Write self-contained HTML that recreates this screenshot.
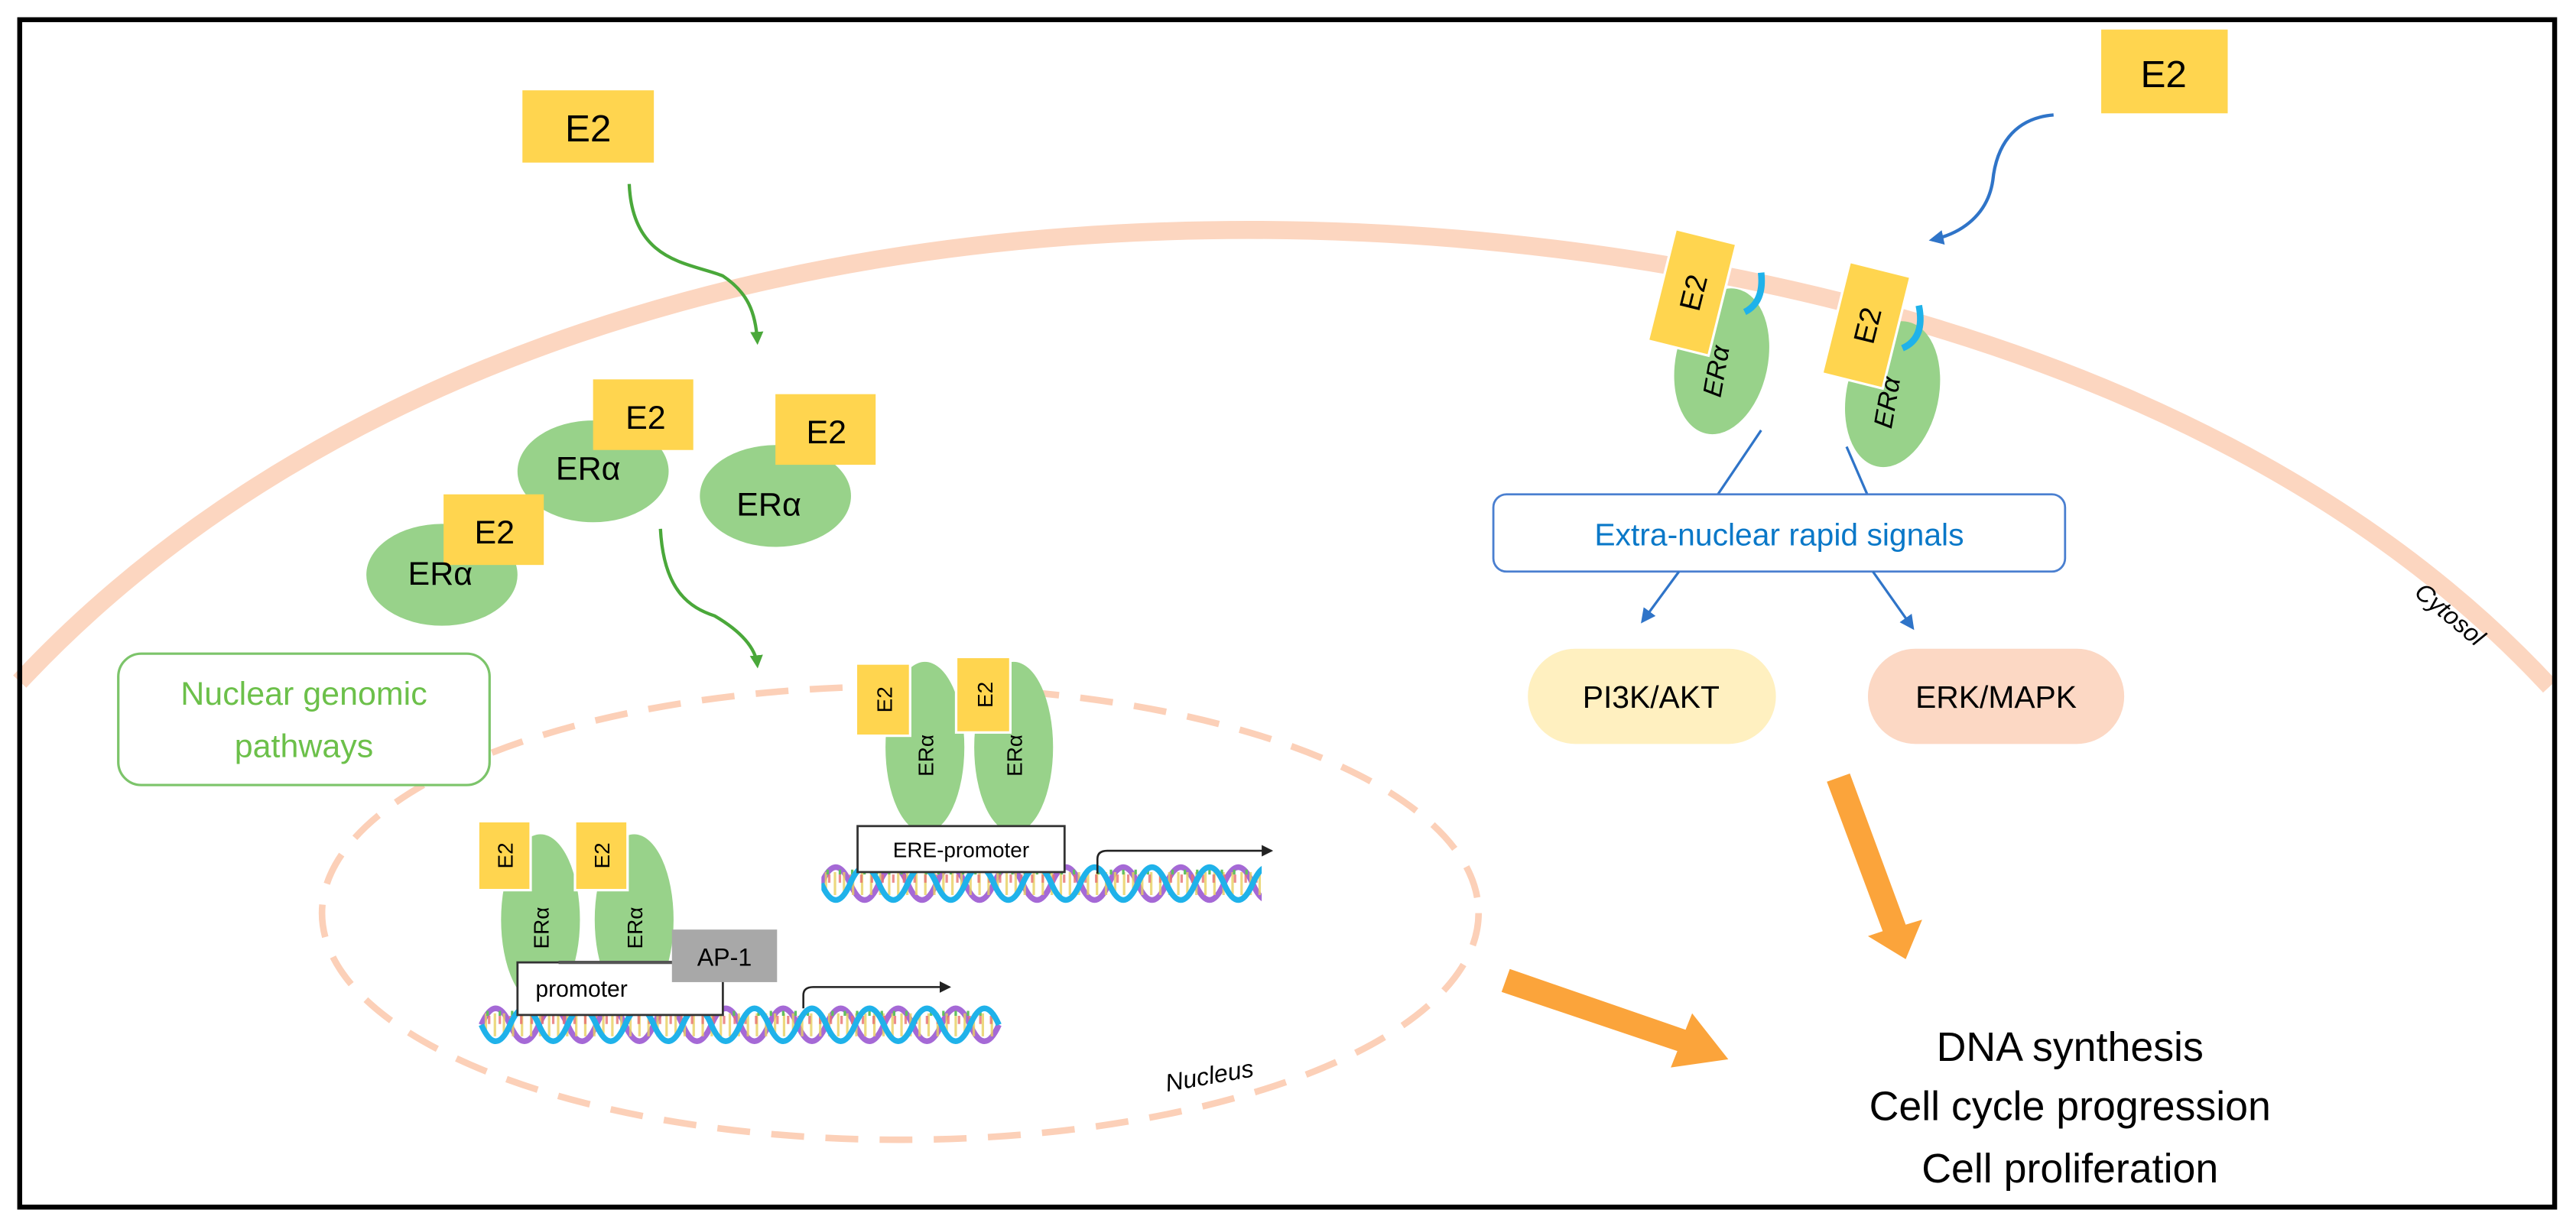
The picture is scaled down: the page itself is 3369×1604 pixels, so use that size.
<!DOCTYPE html>
<html><head><meta charset="utf-8"><style>
html,body{margin:0;padding:0;background:#fff}
svg{display:block}
text{font-family:"Liberation Sans",sans-serif}
</style></head><body>
<svg width="3369" height="1604" viewBox="0 0 1568 746.5" preserveAspectRatio="none" xmlns="http://www.w3.org/2000/svg">
<defs>
<marker id="ga" markerWidth="8" markerHeight="8" refX="6" refY="4" orient="auto" markerUnits="userSpaceOnUse"><path d="M0,0 L8,4 L0,8 Z" fill="#4aa83a"/></marker>
<marker id="ba" markerWidth="9" markerHeight="9" refX="7" refY="4.5" orient="auto" markerUnits="userSpaceOnUse"><path d="M0,0 L9,4.5 L0,9 Z" fill="#2f74c8"/></marker>
<marker id="ka" markerWidth="7" markerHeight="7" refX="6" refY="3.5" orient="auto" markerUnits="userSpaceOnUse"><path d="M0,0 L7,3.5 L0,7 Z" fill="#222"/></marker>
<clipPath id="c1"><rect x="0" y="-20" width="268" height="40"/></clipPath>
<g id="dna">
<path d="M0,0 q8.75,-20 17.5,0 t17.5,0 t17.5,0 t17.5,0 t17.5,0 t17.5,0 t17.5,0 t17.5,0 t17.5,0 t17.5,0 t17.5,0 t17.5,0 t17.5,0 t17.5,0 t17.5,0 t17.5,0 t17.5,0 t17.5,0" fill="none" stroke="#a569d6" stroke-width="3.5"/>
<line x1="2" y1="0" x2="315" y2="0" stroke="#e8d060" stroke-width="14" stroke-dasharray="1.5 4" opacity="0.8"/>
<line x1="4" y1="-3" x2="315" y2="-3" stroke="#e87070" stroke-width="5" stroke-dasharray="1.5 5" opacity="0.8"/>
<line x1="3" y1="-7" x2="315" y2="-7" stroke="#60c060" stroke-width="3" stroke-dasharray="1.5 6"/>
<path d="M0,0 q8.75,20 17.5,0 t17.5,0 t17.5,0 t17.5,0 t17.5,0 t17.5,0 t17.5,0 t17.5,0 t17.5,0 t17.5,0 t17.5,0 t17.5,0 t17.5,0 t17.5,0 t17.5,0 t17.5,0 t17.5,0 t17.5,0" fill="none" stroke="#1fb2ea" stroke-width="3.5"/>
</g>
</defs>

<!-- membrane -->
<path d="M12,415 C180,235 450,140 760,140 C1000,140 1350,200 1552,418" fill="none" stroke="#fcd6c0" stroke-width="11"/>

<!-- nucleus -->
<ellipse cx="548" cy="556" rx="352" ry="138" fill="none" stroke="#fcd0b8" stroke-width="4" stroke-dasharray="20 13"/>

<!-- border -->
<rect x="12" y="12" width="1543" height="723" fill="none" stroke="#000" stroke-width="3"/>

<!-- top-left E2 -->
<rect x="318" y="55" width="80" height="44" fill="#ffd54f"/>
<text x="358" y="86" font-size="23" text-anchor="middle">E2</text>
<path d="M383,112 C385,160 420,160 440,168 C455,178 460,190 461,208" fill="none" stroke="#4aa83a" stroke-width="2" marker-end="url(#ga)"/>

<!-- cytosolic ERa -->
<ellipse cx="361" cy="287" rx="46" ry="31" fill="#98d28a"/>
<rect x="361" y="231" width="61" height="43" fill="#ffd54f"/>
<text x="393" y="261" font-size="20" text-anchor="middle">E2</text>
<text x="358" y="292" font-size="20" text-anchor="middle">ERα</text>

<ellipse cx="472" cy="302" rx="46" ry="31" fill="#98d28a"/>
<rect x="472" y="240" width="61" height="43" fill="#ffd54f"/>
<text x="503" y="270" font-size="20" text-anchor="middle">E2</text>
<text x="468" y="314" font-size="20" text-anchor="middle">ERα</text>

<ellipse cx="269" cy="350" rx="46" ry="31" fill="#98d28a"/>
<rect x="270" y="301" width="61" height="43" fill="#ffd54f"/>
<text x="301" y="331" font-size="20" text-anchor="middle">E2</text>
<text x="268" y="356" font-size="20" text-anchor="middle">ERα</text>

<path d="M402,322 C404,360 420,370 435,375 C452,385 460,395 461,405" fill="none" stroke="#4aa83a" stroke-width="2" marker-end="url(#ga)"/>

<!-- Nuclear genomic pathways -->
<rect x="72" y="398" width="226" height="80" rx="14" fill="#fff" stroke="#7cc46a" stroke-width="1.5"/>
<text x="185" y="429" font-size="20" fill="#6cc04a" text-anchor="middle">Nuclear genomic</text>
<text x="185" y="461" font-size="20" fill="#6cc04a" text-anchor="middle">pathways</text>

<!-- ERE group -->
<g transform="translate(500,538)"><use href="#dna" clip-path="url(#c1)"/></g>
<ellipse cx="563" cy="455" rx="24" ry="52" fill="#98d28a"/>
<ellipse cx="617" cy="455" rx="24" ry="52" fill="#98d28a"/>
<rect x="521" y="404" width="33" height="44" fill="#ffd54f" stroke="#fff" stroke-width="1.5"/>
<rect x="582" y="400" width="33" height="46" fill="#ffd54f" stroke="#fff" stroke-width="1.5"/>
<text transform="translate(543,426) rotate(-90)" font-size="13" text-anchor="middle">E2</text>
<text transform="translate(604,423) rotate(-90)" font-size="13" text-anchor="middle">E2</text>
<text transform="translate(568,460) rotate(-90)" font-size="13" text-anchor="middle">ERα</text>
<text transform="translate(622,460) rotate(-90)" font-size="13" text-anchor="middle">ERα</text>
<rect x="522" y="503" width="126" height="28" fill="#fff" stroke="#333" stroke-width="1.3"/>
<text x="585" y="522" font-size="13" text-anchor="middle">ERE-promoter</text>
<path d="M668,532 L668,523 Q668,518 674,518 L774,518" fill="none" stroke="#222" stroke-width="1.2" marker-end="url(#ka)"/>

<!-- AP-1 group -->
<use href="#dna" x="293" y="624"/>
<ellipse cx="329" cy="560" rx="24" ry="52" fill="#98d28a"/>
<ellipse cx="386" cy="560" rx="24" ry="52" fill="#98d28a"/>
<rect x="291" y="500" width="32" height="42" fill="#ffd54f" stroke="#fff" stroke-width="1.5"/>
<rect x="350" y="500" width="32" height="42" fill="#ffd54f" stroke="#fff" stroke-width="1.5"/>
<text transform="translate(312,521) rotate(-90)" font-size="13" text-anchor="middle">E2</text>
<text transform="translate(371,521) rotate(-90)" font-size="13" text-anchor="middle">E2</text>
<text transform="translate(334,565) rotate(-90)" font-size="13" text-anchor="middle">ERα</text>
<text transform="translate(391,565) rotate(-90)" font-size="13" text-anchor="middle">ERα</text>
<rect x="315" y="586" width="125" height="32" fill="#fff" stroke="#333" stroke-width="1.3"/>
<line x1="340" y1="586" x2="410" y2="586" stroke="#555" stroke-width="2"/>
<text x="326" y="607" font-size="14">promoter</text>
<rect x="409" y="566" width="64" height="32" fill="#a8a8a8"/>
<text x="441" y="588" font-size="15" text-anchor="middle">AP-1</text>
<path d="M489,614 L489,606 Q489,601 495,601 L578,601" fill="none" stroke="#222" stroke-width="1.2" marker-end="url(#ka)"/>

<text transform="translate(737,660) rotate(-10)" font-size="15" font-style="italic" text-anchor="middle">Nucleus</text>
<text transform="translate(1488,378) rotate(40)" font-size="15" font-style="italic" text-anchor="middle">Cytosol</text>

<!-- top-right E2 -->
<rect x="1279" y="18" width="77" height="51" fill="#ffd54f"/>
<text x="1317" y="53" font-size="23" text-anchor="middle">E2</text>
<path d="M1250,70 C1225,72 1215,90 1213,110 C1210,130 1195,142 1176,146" fill="none" stroke="#2f74c8" stroke-width="2" marker-end="url(#ba)"/>

<!-- membrane ERa -->
<ellipse cx="1048" cy="220" rx="28" ry="45" transform="rotate(12 1048 220)" fill="#98d28a"/>
<path d="M1062,190 Q1074,184 1072,166" fill="none" stroke="#1fb2ea" stroke-width="4"/>
<g transform="translate(1030,178) rotate(14)"><rect x="-19" y="-35" width="38" height="70" fill="#ffd54f" stroke="#fff" stroke-width="1.5"/><text transform="rotate(-90)" x="0" y="7" font-size="18" text-anchor="middle">E2</text></g>
<text transform="translate(1050,227) rotate(-80)" font-size="16" font-style="italic" text-anchor="middle">ERα</text>

<ellipse cx="1152" cy="240" rx="28" ry="45" transform="rotate(12 1152 240)" fill="#98d28a"/>
<path d="M1158,212 Q1172,206 1168,186" fill="none" stroke="#1fb2ea" stroke-width="4"/>
<g transform="translate(1136,198) rotate(14)"><rect x="-19" y="-35" width="38" height="70" fill="#ffd54f" stroke="#fff" stroke-width="1.5"/><text transform="rotate(-90)" x="0" y="7" font-size="18" text-anchor="middle">E2</text></g>
<text transform="translate(1154,246) rotate(-80)" font-size="16" font-style="italic" text-anchor="middle">ERα</text>

<!-- signals -->
<line x1="1072" y1="262" x2="1045" y2="302" stroke="#2f74c8" stroke-width="1.5"/>
<line x1="1124" y1="272" x2="1137" y2="302" stroke="#2f74c8" stroke-width="1.5"/>
<rect x="909" y="301" width="348" height="47" rx="8" fill="#fff" stroke="#4a7fd0" stroke-width="1.3"/>
<text x="1083" y="332" font-size="19" fill="#0a78c8" text-anchor="middle">Extra-nuclear  rapid signals</text>
<line x1="1022" y1="348" x2="1000" y2="378" stroke="#2f74c8" stroke-width="1.5" marker-end="url(#ba)"/>
<line x1="1140" y1="348" x2="1164" y2="382" stroke="#2f74c8" stroke-width="1.5" marker-end="url(#ba)"/>

<rect x="930" y="395" width="151" height="58" rx="29" fill="#fff0c0"/>
<text x="1005" y="431" font-size="19" text-anchor="middle">PI3K/AKT</text>
<rect x="1137" y="395" width="156" height="58" rx="29" fill="#fcd8c4"/>
<text x="1215" y="431" font-size="19" text-anchor="middle">ERK/MAPK</text>

<!-- orange arrows -->
<polygon points="1112,476 1126,471 1160,563 1170,560 1160,584 1137,570 1146,567" fill="#fba43b"/>
<polygon points="919,590 914,604 1021,640 1017,650 1052,645 1030,617 1026,627" fill="#fba43b"/>

<text x="1260" y="646" font-size="25" text-anchor="middle">DNA synthesis</text>
<text x="1260" y="682" font-size="25" text-anchor="middle">Cell cycle progression</text>
<text x="1260" y="720" font-size="25" text-anchor="middle">Cell proliferation</text>
</svg>
</body></html>
